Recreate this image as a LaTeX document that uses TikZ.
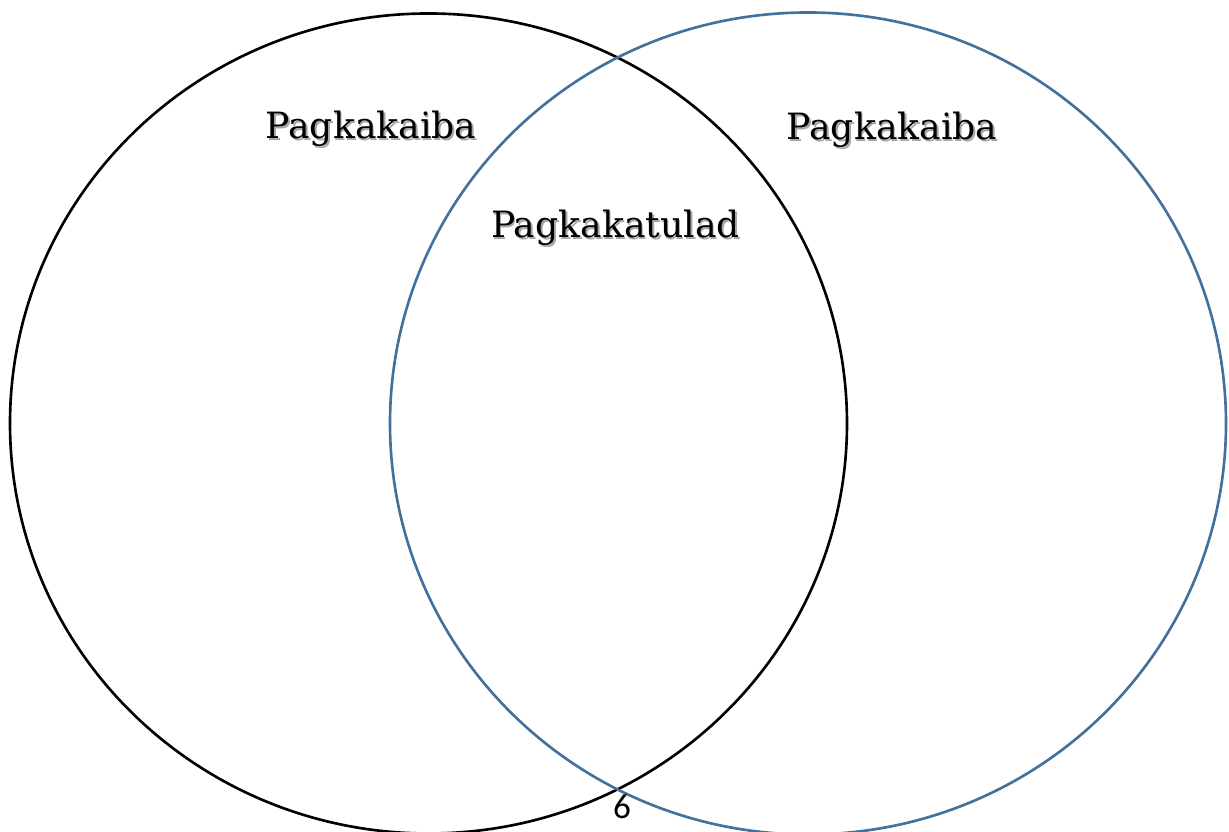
\documentclass[tikz,border=0pt]{standalone}
\usepackage{fontspec}
\usepackage{xcolor}
\usepackage{tikz}
\newfontfamily\slabfont{DejaVu Serif}
\newfontfamily\pagefont{Carlito}
\definecolor{ink}{HTML}{000000}
\definecolor{setblue}{HTML}{41719C}
\definecolor{shade}{HTML}{A6A6A6}
\newcommand{\shtext}[1]{\rlap{\hspace{0.5pt}\raisebox{-0.5pt}{\color{shade}#1}}#1}
\tikzset{
  setA/.style={draw=ink, line width=0.75pt},
  setB/.style={draw=setblue, line width=0.75pt},
  lab/.style={text=ink, font=\slabfont\fontsize{10.3}{12}\selectfont, anchor=base, inner sep=0pt},
  pnum/.style={text=ink, font=\pagefont\fontsize{10}{11}\selectfont, anchor=base, inner sep=0pt},
}
\begin{document}
\begin{tikzpicture}
  \useasboundingbox (0,0) rectangle (12.29,8.32);
  \coordinate (CA) at (4.285,4.085);
  \coordinate (CB) at (8.08,4.085);
  \draw[setA] (CA) ellipse [x radius=4.185, y radius=4.10];
  \draw[setB] (CB) ellipse [x radius=4.18, y radius=4.11];
  % labels
  \node[lab] (diffA) at (3.71,6.935) {\shtext{Pagkakaiba}};
  \node[lab] (diffB) at (8.92,6.925) {\shtext{Pagkakaiba}};
  \node[lab] (same) at (6.155,5.945) {\shtext{Pagkakatulad}};
  \node[pnum] (page) at (6.22,0.13) {6};
\end{tikzpicture}
\end{document}
